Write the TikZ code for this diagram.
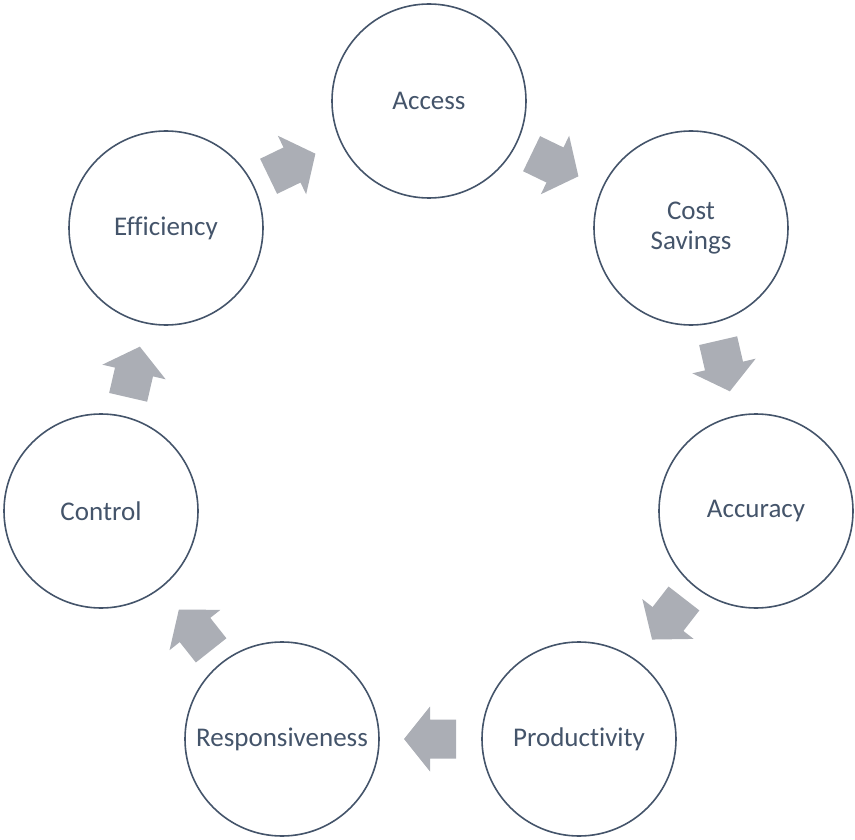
\documentclass[tikz,border=0pt]{standalone}
\usepackage{fontspec}
\setmainfont{Carlito}[Ligatures=CommonOff]
\definecolor{txt}{HTML}{44546A}
\definecolor{ring}{HTML}{44546A}
\definecolor{arrowgray}{HTML}{ABAEB5}
\begin{document}
\begin{tikzpicture}[x=1pt,y=-1pt,
  stage/.style={circle, draw=ring, line width=1.6pt, minimum size=194pt, inner sep=0pt,
    text=txt, font=\fontsize{27}{30}\selectfont, align=center},
  blockarrow/.pic={\fill[arrowgray] (-26,-19.5) -- (0,-19.5) -- (0,-32.5) -- (26,0) -- (0,32.5) -- (0,19.5) -- (-26,19.5) -- cycle;}]
\useasboundingbox (0,0) rectangle (855,840);
\node[stage] (access) at (429,101) {Access};
\node[stage] (cost) at (691,228) {Cost\\Savings};
\node[stage] (accuracy) at (756,511) {Accuracy};
\node[stage] (prod) at (579,739) {Productivity};
\node[stage] (resp) at (282,739) {Responsiveness};
\node[stage] (control) at (101,511) {Control};
\node[stage] (eff) at (166,228) {Efficiency};
\pic[rotate=25.8] at (292,165) {blockarrow};
\pic[rotate=-25.8] at (555,165) {blockarrow};
\pic[rotate=-77] at (724,366) {blockarrow};
\pic[rotate=-127.8] at (668,619) {blockarrow};
\pic[rotate=180] at (430,739) {blockarrow};
\pic[rotate=128.4] at (195,630) {blockarrow};
\pic[rotate=77] at (134,372) {blockarrow};
\end{tikzpicture}
\end{document}
